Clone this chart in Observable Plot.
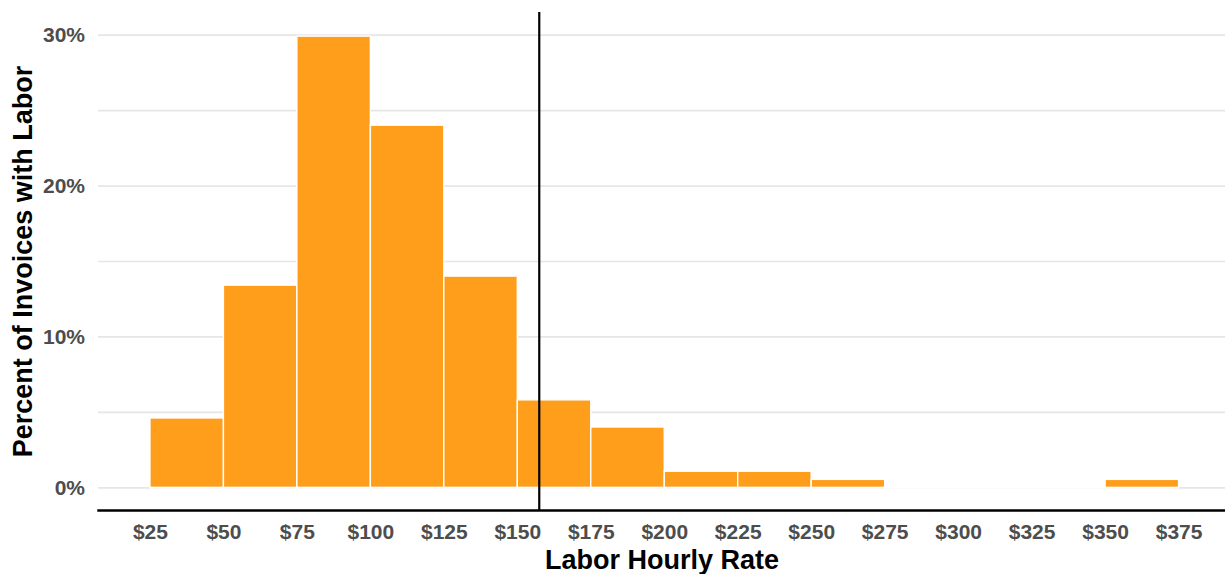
<!DOCTYPE html>
<html>
<head>
<meta charset="utf-8">
<script src="https://cdn.jsdelivr.net/npm/d3@7"></script>
<script src="https://cdn.jsdelivr.net/npm/@observablehq/plot@0.6"></script>
<style>
  html, body { margin: 0; padding: 0; background: #fff; }
  #chart svg { display: block; }
</style>
</head>
<body>
<div id="chart"></div>
<script>
const binStart = [25, 50, 75, 100, 125, 150, 175, 200, 225, 250, 275, 300, 325, 350];
const binEnd   = [50, 75, 100, 125, 150, 175, 200, 225, 250, 275, 300, 325, 350, 375];
const percent  = [4.6, 13.4, 29.9, 24.0, 14.0, 5.8, 4.0, 1.07, 1.07, 0.53, 0, 0, 0, 0.53];
const averageRate = [157.3];
const xTicks = [25, 50, 75, 100, 125, 150, 175, 200, 225, 250, 275, 300, 325, 350, 375];
const yTicks = [0, 10, 20, 30];
const yGrid = [0, 5, 10, 15, 20, 25, 30];
const xTitle = "Labor Hourly Rate";
const yTitle = "Percent of Invoices with Labor";

const bins = binStart.map((s, i) => ({start: s, end: binEnd[i], pct: percent[i]}));
const font = "'Liberation Sans', Arial, sans-serif";

const chart = Plot.plot({
  width: 1225,
  height: 574,
  marginLeft: 98,
  marginRight: 0,
  marginTop: 12,
  marginBottom: 64,
  style: {fontFamily: font, background: "white"},
  x: {domain: [7.5, 392.5], range: [98.5, 1230]},
  y: {domain: [-1.5, 31.5]},
  marks: [
    Plot.gridY(yGrid, {stroke: "#e6e6e6", strokeOpacity: 1, strokeWidth: 1.7}),
    Plot.rectY(bins, {x1: "start", x2: "end", y: "pct", fill: "#FF9E1B", stroke: "white", strokeWidth: 1.4}),
    Plot.ruleY(bins, {x1: "start", x2: "end", y: 0, stroke: "white", strokeWidth: 1.7}),
    Plot.ruleX(averageRate, {stroke: "black", strokeWidth: 2.2}),
    Plot.axisX(xTicks, {tickFormat: d => "$" + d, tickSize: 0, tickPadding: 13.4, fontSize: 21, fontWeight: "bold", fill: "#4d4d4d", label: null}),
    Plot.axisY(yTicks, {tickFormat: d => d + "%", tickSize: 0, tickPadding: 13.5, fontSize: 21, fontWeight: "bold", fill: "#4d4d4d", label: null}),
    Plot.frame({anchor: "bottom", stroke: "black", strokeWidth: 2.4}),
    Plot.text([xTitle], {frameAnchor: "bottom", lineAnchor: "middle", textAnchor: "middle", dy: 49.4, fontSize: 27, fontWeight: "bold", fill: "black"}),
    Plot.text([yTitle], {frameAnchor: "left", lineAnchor: "middle", textAnchor: "middle", dx: -75.6, rotate: -90, fontSize: 27, fontWeight: "bold", fill: "black"})
  ]
});
document.getElementById("chart").appendChild(chart);
</script>
</body>
</html>
